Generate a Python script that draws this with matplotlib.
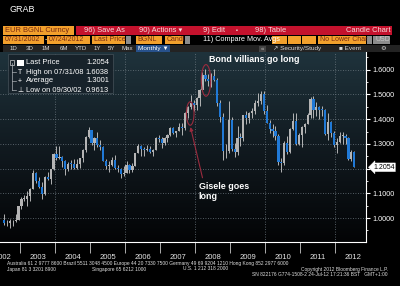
import matplotlib.pyplot as plt
import numpy as np
from matplotlib.colors import LinearSegmentedColormap
from matplotlib.patches import Ellipse, Rectangle
from matplotlib.transforms import blended_transform_factory

# EUR/USD monthly candles, Jul 2002 .. Jul 2012
years = list(range(2002, 2013))
first_month = 7  # data starts in July 2002

opens = [
    0.991, 0.978, 0.981, 0.986, 0.989, 0.992,  # 2002 (Jul-Dec)
    1.049, 1.077, 1.078, 1.091, 1.117, 1.181, 1.150, 1.124, 1.099, 1.165, 1.159, 1.199,
    1.260, 1.245, 1.248, 1.231, 1.197, 1.220, 1.218, 1.202, 1.217, 1.243, 1.277, 1.329,
    1.357, 1.304, 1.325, 1.296, 1.288, 1.230, 1.210, 1.213, 1.234, 1.202, 1.199, 1.179,
    1.184, 1.216, 1.193, 1.212, 1.262, 1.293, 1.279, 1.277, 1.281, 1.268, 1.276, 1.324,
    1.320, 1.302, 1.323, 1.335, 1.366, 1.345, 1.354, 1.370, 1.363, 1.427, 1.449, 1.464,
    1.459, 1.486, 1.518, 1.579, 1.561, 1.555, 1.575, 1.560, 1.467, 1.409, 1.272, 1.270,
    1.397, 1.280, 1.267, 1.325, 1.323, 1.416, 1.403, 1.426, 1.434, 1.464, 1.472, 1.500,
    1.432, 1.386, 1.362, 1.351, 1.330, 1.228, 1.222, 1.305, 1.268, 1.362, 1.392, 1.298,
    1.338, 1.369, 1.382, 1.416, 1.480, 1.439, 1.450, 1.439, 1.437, 1.339, 1.387, 1.345,
    1.296, 1.308, 1.334, 1.334, 1.324, 1.237, 1.266,  # 2012 (Jan-Jul)
]
highs = [
    1.018, 0.993, 0.995, 0.994, 1.016, 1.050,
    1.087, 1.093, 1.108, 1.123, 1.193, 1.188, 1.167, 1.146, 1.170, 1.185, 1.200, 1.264,
    1.290, 1.293, 1.250, 1.236, 1.228, 1.233, 1.240, 1.239, 1.245, 1.281, 1.330, 1.367,
    1.358, 1.326, 1.349, 1.315, 1.292, 1.237, 1.229, 1.247, 1.254, 1.216, 1.203, 1.209,
    1.229, 1.218, 1.221, 1.264, 1.298, 1.297, 1.287, 1.297, 1.291, 1.280, 1.326, 1.336,
    1.327, 1.326, 1.339, 1.368, 1.368, 1.354, 1.385, 1.384, 1.428, 1.452, 1.497, 1.478,
    1.490, 1.521, 1.590, 1.602, 1.583, 1.585, 1.604, 1.567, 1.477, 1.427, 1.300, 1.472,
    1.410, 1.304, 1.374, 1.343, 1.417, 1.434, 1.430, 1.445, 1.478, 1.508, 1.514, 1.514,
    1.458, 1.397, 1.379, 1.372, 1.340, 1.243, 1.312, 1.333, 1.366, 1.425, 1.424, 1.345,
    1.374, 1.386, 1.425, 1.488, 1.494, 1.470, 1.454, 1.455, 1.443, 1.425, 1.392, 1.354,
    1.323, 1.349, 1.348, 1.339, 1.328, 1.275, 1.270,
]
lows = [
    0.972, 0.966, 0.961, 0.966, 0.985, 0.991,
    1.036, 1.068, 1.050, 1.070, 1.117, 1.140, 1.123, 1.077, 1.094, 1.153, 1.138, 1.195,
    1.235, 1.238, 1.208, 1.176, 1.190, 1.199, 1.198, 1.198, 1.201, 1.225, 1.269, 1.322,
    1.296, 1.275, 1.288, 1.277, 1.230, 1.199, 1.187, 1.211, 1.200, 1.187, 1.164, 1.171,
    1.181, 1.183, 1.186, 1.209, 1.262, 1.253, 1.252, 1.270, 1.262, 1.251, 1.275, 1.309,
    1.284, 1.294, 1.306, 1.333, 1.341, 1.329, 1.351, 1.337, 1.358, 1.406, 1.440, 1.434,
    1.437, 1.453, 1.516, 1.554, 1.535, 1.531, 1.555, 1.453, 1.390, 1.233, 1.244, 1.262,
    1.271, 1.248, 1.255, 1.290, 1.313, 1.380, 1.385, 1.404, 1.420, 1.454, 1.461, 1.422,
    1.386, 1.344, 1.327, 1.314, 1.215, 1.188, 1.215, 1.259, 1.264, 1.355, 1.296, 1.297,
    1.286, 1.343, 1.380, 1.406, 1.403, 1.411, 1.399, 1.411, 1.337, 1.317, 1.326, 1.288,
    1.262, 1.303, 1.300, 1.300, 1.236, 1.229, 1.205,
]
closes = [
    0.978, 0.981, 0.986, 0.989, 0.992, 1.049,
    1.077, 1.078, 1.091, 1.117, 1.181, 1.150, 1.124, 1.099, 1.165, 1.159, 1.199, 1.260,
    1.245, 1.248, 1.231, 1.197, 1.220, 1.218, 1.202, 1.217, 1.243, 1.277, 1.329, 1.357,
    1.304, 1.325, 1.296, 1.288, 1.230, 1.210, 1.213, 1.234, 1.202, 1.199, 1.179, 1.184,
    1.216, 1.193, 1.212, 1.262, 1.293, 1.279, 1.277, 1.281, 1.268, 1.276, 1.324, 1.320,
    1.302, 1.323, 1.335, 1.366, 1.345, 1.354, 1.370, 1.363, 1.427, 1.449, 1.464, 1.459,
    1.486, 1.518, 1.579, 1.561, 1.555, 1.575, 1.560, 1.467, 1.409, 1.272, 1.270, 1.397,
    1.280, 1.267, 1.325, 1.323, 1.416, 1.403, 1.426, 1.434, 1.464, 1.472, 1.500, 1.432,
    1.386, 1.362, 1.351, 1.330, 1.228, 1.222, 1.305, 1.268, 1.362, 1.392, 1.298, 1.338,
    1.369, 1.382, 1.416, 1.480, 1.439, 1.450, 1.439, 1.437, 1.339, 1.387, 1.345, 1.296,
    1.308, 1.334, 1.334, 1.324, 1.237, 1.266, 1.2054,
]

y_ticks = [1.0, 1.1, 1.2, 1.3, 1.4, 1.5, 1.6]
last_price = 1.2054
legend_rows = [
    ("Last Price", "1.2054"),
    ("High on 07/31/08", "1.6038"),
    ("Average", "1.3001"),
    ("Low on 09/30/02", "0.9613"),
]

UP = "#b4b4b4"
DOWN = "#2079d6"
WICK = "#cccccc"
RED = "#9b2b3e"
FONT = ["Liberation Sans", "DejaVu Sans"]

fig = plt.figure(figsize=(4, 2.86), dpi=100, facecolor="black")

# price panel, placed in pixels: x 0..366, y 52..242
ax = fig.add_axes([0, 44 / 286, 366 / 400, 190 / 286])
x = np.arange(len(closes))
x_lim = (-1.35, 124.0)
y_lim = (0.903, 1.672)

bg = LinearSegmentedColormap.from_list("bg", ["#1f333c", "#111a20", "#030405"])
ax.imshow(np.linspace(0, 1, 256).reshape(-1, 1), cmap=bg, aspect="auto",
          extent=[x_lim[0], x_lim[1], y_lim[0], y_lim[1]], zorder=0)

# grid
for v in y_ticks:
    ax.axhline(v, color="#6c7880", lw=0.6, ls=(0, (1, 2)), zorder=1)
year_starts = [(y - 2002) * 12 - first_month + 1 - 0.5 for y in years[1:]]
for b in year_starts[1::2]:
    ax.axvline(b, color="#6c7880", lw=0.6, ls=(0, (1, 2)), zorder=1)

# candles
o = np.array(opens)
h = np.array(highs)
lo = np.array(lows)
c = np.array(closes)
colors = np.where(c >= o, UP, DOWN)
ax.vlines(x, lo, h, color=WICK, lw=0.6, zorder=2)
body = np.maximum(np.abs(c - o), 0.003)
ax.bar(x, body, bottom=np.minimum(o, c), width=0.75, color=colors,
       edgecolor="none", zorder=3)

# annotations
ax.add_patch(Ellipse((63.8, 1.423), 2.6, 0.095, fill=False, ec=RED, lw=0.8, zorder=4))
ax.add_patch(Ellipse((69.2, 1.557), 3.2, 0.128, fill=False, ec=RED, lw=0.8, zorder=4))
ax.annotate("", xy=(63.9, 1.368), xytext=(68.0, 1.163),
            arrowprops=dict(arrowstyle="-|>", color=RED, lw=0.8, mutation_scale=5,
                            shrinkA=0, shrinkB=0), zorder=4)
ax.text(70.1, 1.640, "Bond villians go long", color="white", fontsize=6.4,
        fontweight="bold", family=FONT, va="center", ha="left", zorder=5)
ax.text(66.7, 1.146, "Gisele goes\nlong", color="white", fontsize=6.4,
        fontweight="bold", family=FONT, va="top", ha="left", linespacing=1.1, zorder=5)

ax.set_xlim(*x_lim)
ax.set_ylim(*y_lim)

# axes styling
for side in ["left", "top"]:
    ax.spines[side].set_visible(False)
for side in ["right", "bottom"]:
    ax.spines[side].set_color("white")
    ax.spines[side].set_linewidth(0.8)

ax.yaxis.tick_right()
ax.set_yticks(y_ticks)
# the 1.2000 label sits under the last-price tag, so it is left blank
ax.set_yticklabels(["" if abs(v - 1.2) < 1e-9 else f"{v:.4f}" for v in y_ticks])
ax.set_yticks([v + 0.05 for v in [0.9] + y_ticks], minor=True)
ax.tick_params(axis="y", which="major", colors="white", length=3, width=0.8,
               pad=1.5, labelsize=5.2)
ax.tick_params(axis="y", which="minor", colors="white", length=1.5, width=0.6)

ax.set_xticks(year_starts)
ax.set_xticklabels([])
ax.set_xticks([(y - 2002) * 12 - first_month + 6.5 for y in years], minor=True)
ax.set_xticklabels([str(y) for y in years], minor=True)
ax.tick_params(axis="x", which="major", colors="#c8c8c8", length=8, width=0.6)
ax.tick_params(axis="x", which="minor", length=0, pad=8.5, labelsize=5.5,
               labelcolor="#e6e6e6")
for lab in ax.get_xticklabels(minor=True) + ax.get_yticklabels():
    lab.set_family(FONT)

tag = blended_transform_factory(ax.transAxes, ax.transData)
ax.text(1.0 + 7 / 366, last_price, f"{last_price:.4f}", transform=tag, fontsize=5,
        family=FONT, color="black", va="center", ha="left", zorder=6, clip_on=False,
        bbox=dict(boxstyle="larrow,pad=0.12", fc="white", ec="white", lw=0.3))

# screen chrome, drawn in pixel coordinates
ui = fig.add_axes([0, 0, 1, 1], zorder=5)
ui.set_xlim(0, 400)
ui.set_ylim(286, 0)
ui.axis("off")
ui.patch.set_visible(False)


def box(x0, y0, x1, y1, color, **kw):
    ui.add_patch(Rectangle((x0, y0), x1 - x0, y1 - y0, facecolor=color,
                           edgecolor=kw.pop("ec", "none"), **kw))


def label(xp, yp, s, color="white", size=5.2, **kw):
    kw.setdefault("family", FONT)
    ui.text(xp, yp, s, color=color, fontsize=size, va="center", **kw)


ORANGE = "#f2a02c"
DARK_TXT = "#7a2a12"
label(9, 9.5, "GRAB", size=6.5)

# row 1
box(3, 26, 74, 34.5, ORANGE)
label(5, 30.3, "EUR BGNL Curncy", DARK_TXT, 5.4)
box(76, 26, 392, 34.5, "#c4122d")
label(84, 30.3, "96) Save As", "#f6dede", 5.4)
label(139, 30.3, "90) Actions \u25be", "#f6dede", 5.4)
label(203, 30.3, "9) Edit", "#f6dede", 5.4)
label(236, 30.3, "\u25aa", "#f6dede", 4)
label(255, 30.3, "98) Table", "#f6dede", 5.4)
label(391, 30.3, "Candle Chart", "#f6dede", 5.4, ha="right")

# row 2
for x0, x1, s in [(3, 44, "07/31/2002"), (47, 90, "07/24/2012"), (92, 125, "Last Price"),
                  (136, 162, "BGNL"), (165, 183, "Candl"), (318, 366, "No Lower Char")]:
    box(x0, 35.5, x1, 43.5, ORANGE)
    label(x0 + 1.5, 39.7, s, DARK_TXT, 5.0)
label(45.5, 39.7, "-", "white", 5.0, ha="center")
for x0 in [126, 185, 367]:
    box(x0, 35.5, x0 + 5, 43.5, "#8c8c8c")
for x0, x1 in [(272, 287), (288, 301), (302, 316)]:
    box(x0, 35.5, x1, 43.5, ORANGE)
label(203, 39.7, "11) Compare Mov. Avgs", "white", 5.2)
box(373, 35.5, 390, 43.5, "#8c8c8c")
label(375, 39.7, "USD", "#c8c8c8", 5.0)

# row 3
box(3, 45, 400, 52, "#232323")
for xp, s in [(10, "1D"), (26, "3D"), (42, "1M"), (60, "6M"), (75, "YTD"),
              (94, "1Y"), (108, "5Y"), (121, "Max")]:
    label(xp, 48.6, s, "#d8d8d8", 4.4)
box(136, 45, 170, 52, "#27518b")
label(138, 48.6, "Monthly \u25bc", "white", 4.6)
box(259, 46, 266, 51.5, "#444444")
label(262.5, 48.6, "\u00ab", "#cccccc", 4.2, ha="center")
label(273, 48.6, "\u2197 Security/Study", "#d8d8d8", 4.6)
label(339, 48.6, "\u25a0 Event", "#d8d8d8", 4.6)
label(380, 48.6, "\u2699", "#d8d8d8", 4.6)

# legend box
box(8, 54, 113, 93, "#17222a", ec="#46525a", lw=0.5)
ui.plot([12, 12], [63, 90], color="#aab0b4", lw=0.5)
box(10, 60, 14, 65, "none", ec="#d0d0d0", lw=0.5)
box(17, 59.5, 23.5, 66, "white")
symbols = ["", "T", "+", "\u22a5"]
for k, (name, val) in enumerate(legend_rows):
    yy = 63 + 9 * k
    if k:
        ui.plot([12, 16], [yy, yy], color="#aab0b4", lw=0.5)
        label(20, yy, symbols[k], "white", 5.0, ha="center")
    label(26, yy, name, "white", 5.4)
    label(109, yy, val, "white", 5.4, ha="right")

# footer
FOOT = "#e0e0e0"
label(7, 264, "Australia 61 2 9777 8600 Brazil 5511 3048 4500 Europe 44 20 7330 7500 "
      "Germany 49 69 9204 1210 Hong Kong 852 2977 6000", FOOT, 3.55)
label(7, 269, "Japan 81 3 3201 8900", FOOT, 3.55)
label(92, 269, "Singapore 65 6212 1000", FOOT, 3.55)
label(183, 269, "U.S. 1 212 318 2000", FOOT, 3.55)
label(388, 269, "Copyright 2012 Bloomberg Finance L.P.", FOOT, 3.55, ha="right")
label(388, 274, "SN 822176 G774-1508-2 24-Jul-12 17:21:36 BST   GMT+1:00", FOOT, 3.55,
      ha="right")

fig.savefig("out.png", dpi=100, facecolor="black")
